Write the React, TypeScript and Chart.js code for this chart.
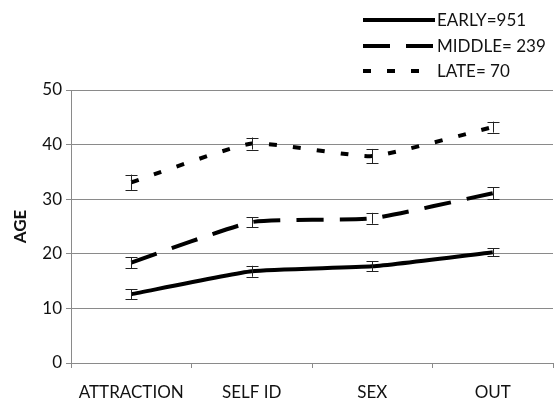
import React, { useEffect, useRef } from "react";
import { Chart, registerables } from "chart.js";

Chart.register(...registerables);

const categories = ["ATTRACTION", "SELF ID", "SEX", "OUT"];
const seriesLabels = ["EARLY=951", "MIDDLE= 239", "LATE= 70"];
const earlyValues = [12.6, 16.8, 17.7, 20.3];
const middleValues = [18.4, 25.8, 26.5, 31.1];
const lateValues = [33.1, 40.2, 37.9, 43.2];
const earlyErrors = [0.9, 1.0, 0.9, 0.7];
const middleErrors = [1.0, 0.9, 1.0, 1.1];
const lateErrors = [1.4, 1.1, 1.3, 1.0];
const yTicks = [0, 10, 20, 30, 40, 50];

const FONT = "Lato, 'Open Sans', sans-serif";

const errorBarPlugin = {
  id: "errorBars",
  afterDatasetsDraw(chart: any) {
    const { ctx, scales } = chart;
    const x = scales.x;
    const y = scales.y;
    ctx.save();
    ctx.strokeStyle = "#222";
    ctx.lineWidth = 1;
    ctx.setLineDash([]);
    chart.data.datasets.forEach((ds: any) => {
      const errs: number[] = ds.errors || [];
      ds.data.forEach((v: number, i: number) => {
        const px = Math.round(x.getPixelForValue(i)) + 0.5;
        const top = y.getPixelForValue(v + errs[i]);
        const bot = y.getPixelForValue(v - errs[i]);
        const half = 6;
        ctx.beginPath();
        ctx.moveTo(px, top);
        ctx.lineTo(px, bot);
        ctx.moveTo(px - half, Math.round(top) + 0.5);
        ctx.lineTo(px + half, Math.round(top) + 0.5);
        ctx.moveTo(px - half, Math.round(bot) + 0.5);
        ctx.lineTo(px + half, Math.round(bot) + 0.5);
        ctx.stroke();
      });
    });
    ctx.restore();
  },
};

const legendPlugin = {
  id: "customLegend",
  afterDraw(chart: any) {
    const { ctx } = chart;
    ctx.save();
    const rows = [20, 46, 71];
    chart.data.datasets.forEach((ds: any, i: number) => {
      const yy = rows[i];
      ctx.strokeStyle = "#000";
      ctx.lineWidth = 4;
      ctx.lineCap = "butt";
      ctx.setLineDash(ds.borderDash || []);
      ctx.beginPath();
      ctx.moveTo(363, yy);
      ctx.lineTo(435, yy);
      ctx.stroke();
      ctx.setLineDash([]);
      ctx.fillStyle = "#111";
      ctx.font = `17px ${FONT}`;
      ctx.textBaseline = "middle";
      ctx.textAlign = "left";
      ctx.fillText(ds.label, 437, yy + 1);
    });
    ctx.restore();
  },
};

export default function App() {
  const ref = useRef<HTMLCanvasElement | null>(null);
  useEffect(() => {
    document.body.style.margin = "0";
    const canvas = ref.current;
    if (!canvas) return;
    const mk = (label: string, data: number[], errors: number[], dash: number[]) => ({
      label,
      data,
      errors,
      borderColor: "#000",
      backgroundColor: "#000",
      borderWidth: 4,
      borderDash: dash,
      borderCapStyle: "butt",
      pointRadius: 0,
      tension: 0.15,
      fill: false,
    });
    const chart = new Chart(canvas, {
      type: "line",
      data: {
        labels: categories,
        datasets: [
          mk(seriesLabels[0], earlyValues, earlyErrors, []),
          mk(seriesLabels[1], middleValues, middleErrors, [27, 16]),
          mk(seriesLabels[2], lateValues, lateErrors, [8, 16]),
        ] as any,
      },
      options: {
        animation: false,
        responsive: false,
        maintainAspectRatio: false,
        layout: { padding: { top: 90, right: 1, left: 0, bottom: 0 } },
        plugins: {
          legend: { display: false },
          tooltip: { enabled: false },
        },
        scales: {
          x: {
            offset: true,
            grid: {
              offset: true,
              drawOnChartArea: false,
              drawTicks: true,
              tickLength: 5,
              color: "#8a8a8a",
            },
            border: { color: "#8a8a8a", width: 1 },
            ticks: {
              color: "#111",
              font: { family: FONT, size: 17 },
              padding: 14,
              maxRotation: 0,
            },
            afterFit: (s: any) => {
              s.height = 39;
            },
          },
          y: {
            min: 0,
            max: 50,
            afterBuildTicks: (s: any) => {
              s.ticks = yTicks.map((v) => ({ value: v }));
            },
            grid: {
              color: "#8a8a8a",
              tickLength: 5,
              drawTicks: true,
            },
            border: { color: "#8a8a8a", width: 1 },
            ticks: {
              color: "#111",
              font: { family: FONT, size: 17 },
              padding: 4,
            },
            title: {
              display: true,
              text: "AGE",
              color: "#111",
              font: { family: FONT, size: 17, weight: "bold" },
              padding: { top: 10, bottom: 0 },
            },
            afterFit: (s: any) => {
              s.width = 71;
            },
          },
        },
      },
      plugins: [errorBarPlugin, legendPlugin],
    } as any);
    return () => chart.destroy();
  }, []);
  return (
    <div style={{ width: 554, height: 402 }}>
      <canvas ref={ref} width={554} height={402} style={{ display: "block" }} />
    </div>
  );
}
